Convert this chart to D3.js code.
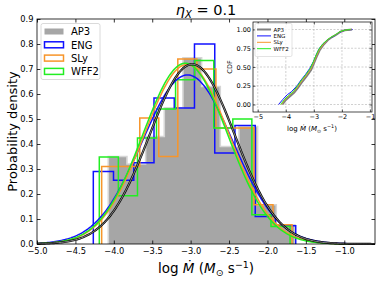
<!DOCTYPE html>
<html>
<head>
<meta charset="utf-8">
<script src="https://cdn.jsdelivr.net/npm/d3@7"></script>
<style>
  body { margin: 0; background: #fff; }
  text { font-family: "DejaVu Sans", sans-serif; }
</style>
</head>
<body>
<div id="chart"></div>
<script>
// series names and colours
const names = ["AP3", "ENG", "SLy", "WFF2"];
const colors = ["#a6a6a6", "#1010ff", "#f7952a", "#22ee22"];

// histogram bin edges (log Mdot) and densities
const edgesAP3 = [-4.072, -3.829, -3.586, -3.343, -3.100, -2.857, -2.614, -2.371, -2.128, -1.885, -1.642];
const densAP3 = [0.35, 0.32, 0.43, 0.545, 0.745, 0.63, 0.39, 0.47, 0.157, 0.077];
const edgesENG = [-4.267, -4.004, -3.740, -3.477, -3.213, -2.950, -2.686, -2.423, -2.159, -1.896, -1.632];
const densENG = [0.29, 0.255, 0.325, 0.584, 0.544, 0.80, 0.364, 0.474, 0.11, 0.073];
const edgesSLy = [-4.158, -3.910, -3.662, -3.415, -3.167, -2.919, -2.671, -2.423, -2.176, -1.928, -1.680];
const densSLy = [0.31, 0.31, 0.504, 0.35, 0.74, 0.70, 0.464, 0.464, 0.157, 0.077];
const edgesWFF2 = [-4.189, -3.941, -3.692, -3.444, -3.196, -2.948, -2.699, -2.451, -2.203, -1.954, -1.706];
const densWFF2 = [0.348, 0.193, 0.424, 0.54, 0.657, 0.734, 0.464, 0.50, 0.117, 0.07];

// gaussian fit parameters (mean, sigma)
const fitMu = [-2.98, -3.04, -3.05, -3.07];
const fitSigma = [0.555, 0.59, 0.556, 0.552];

// empirical CDF vertices for the inset
const cdfAP3 = [[-4.12,0],[-4.0,0.06],[-3.85,0.11],[-3.7,0.16],[-3.55,0.23],[-3.4,0.31],[-3.25,0.38],[-3.1,0.46],[-3.0,0.55],[-2.9,0.64],[-2.8,0.72],[-2.65,0.80],[-2.5,0.86],[-2.35,0.90],[-2.2,0.93],[-2.05,0.97],[-1.9,0.99],[-1.64,1.0]];
const cdfENG = [[-4.26,0],[-4.1,0.07],[-3.95,0.13],[-3.8,0.17],[-3.6,0.25],[-3.45,0.33],[-3.3,0.40],[-3.15,0.48],[-3.02,0.57],[-2.92,0.66],[-2.82,0.74],[-2.7,0.80],[-2.55,0.85],[-2.4,0.89],[-2.25,0.92],[-2.1,0.96],[-1.9,0.99],[-1.62,1.0]];
const cdfSLy = [[-4.16,0],[-4.02,0.07],[-3.88,0.12],[-3.72,0.17],[-3.57,0.24],[-3.42,0.32],[-3.27,0.39],[-3.12,0.47],[-3.01,0.56],[-2.91,0.65],[-2.81,0.73],[-2.67,0.80],[-2.52,0.86],[-2.37,0.90],[-2.22,0.93],[-2.07,0.97],[-1.9,0.99],[-1.66,1.0]];
const cdfWFF2 = [[-4.19,0],[-4.04,0.07],[-3.9,0.12],[-3.74,0.17],[-3.58,0.25],[-3.43,0.33],[-3.28,0.40],[-3.13,0.48],[-3.02,0.57],[-2.92,0.66],[-2.82,0.74],[-2.68,0.81],[-2.53,0.86],[-2.38,0.90],[-2.23,0.93],[-2.08,0.97],[-1.92,0.99],[-1.69,1.0]];

// tick values
const xTicks = [-5.0, -4.5, -4.0, -3.5, -3.0, -2.5, -2.0, -1.5, -1.0];
const yTicks = [0.0, 0.1, 0.2, 0.3, 0.4, 0.5, 0.6, 0.7, 0.8, 0.9];
const insetXTicks = [-5, -4, -3, -2, -1];
const insetYTicks = [0.0, 0.25, 0.5, 0.75, 1.0];

const width = 380, height = 281,
  margin = ({ top: 19, right: 5, bottom: 37, left: 37 });

const svg = d3.select("#chart")
  .append("svg")
  .attr("width", width)
  .attr("height", height);

const x = d3.scaleLinear()
  .domain([-5, -0.6])
  .range([margin.left, width - margin.right]);

const y = d3.scaleLinear()
  .domain([0, 0.9])
  .range([height - margin.bottom, margin.top]);

// turn edges + densities into step outline points
function stepPoints(edges, dens) {
  let pts = [[edges[0], 0]];
  for (let i = 0; i < dens.length; i++) {
    pts.push([edges[i], dens[i]]);
    pts.push([edges[i + 1], dens[i]]);
  }
  pts.push([edges[edges.length - 1], 0]);
  return pts;
}

const line = d3.line()
  .x(d => x(d[0]))
  .y(d => y(d[1]));

const hists = [
  stepPoints(edgesAP3, densAP3),
  stepPoints(edgesENG, densENG),
  stepPoints(edgesSLy, densSLy),
  stepPoints(edgesWFF2, densWFF2)
];

// AP3 filled first
svg.append("path")
  .datum(hists[0])
  .attr("fill", colors[0])
  .attr("stroke", "#d6d6d6")
  .attr("stroke-width", 1.6)
  .attr("d", line);

for (let i = 1; i < 4; i++) {
  svg.append("path")
    .datum(hists[i])
    .attr("fill", "none")
    .attr("stroke", colors[i])
    .attr("stroke-width", 1.5)
    .attr("d", line);
}

// fitted normal curves
function pdf(v, mu, s) {
  return Math.exp(-0.5 * ((v - mu) / s) ** 2) / (s * Math.sqrt(2 * Math.PI));
}
const xs = d3.range(-5, -0.6 + 1e-9, 0.02);
for (let i of [1, 2, 3]) {
  svg.append("path")
    .datum(xs.map(v => [v, pdf(v, fitMu[i], fitSigma[i])]))
    .attr("fill", "none")
    .attr("stroke", colors[i])
    .attr("stroke-width", 1.5)
    .attr("d", line);
}
// AP3 fit: black with a thin light core
const ap3Curve = xs.map(v => [v, pdf(v, fitMu[0], fitSigma[0])]);
svg.append("path").datum(ap3Curve)
  .attr("fill", "none").attr("stroke", "#000").attr("stroke-width", 2.2).attr("d", line);
svg.append("path").datum(ap3Curve)
  .attr("fill", "none").attr("stroke", "#e8e8e8").attr("stroke-width", 0.6).attr("d", line);

// axes (ticks pointing in on all sides)
const bottom = height - margin.bottom, right = width - margin.right;
svg.append("g")
  .attr("transform", `translate(0,${bottom})`)
  .call(d3.axisBottom(x).tickValues(xTicks).tickSize(-3.5).tickPadding(4.3).tickFormat(d3.format(".1f")))
  .call(g => g.select(".domain").remove());
svg.append("g")
  .attr("transform", `translate(0,${margin.top})`)
  .call(d3.axisTop(x).tickValues(xTicks).tickSize(-3.5).tickFormat(""))
  .call(g => g.select(".domain").remove());
svg.append("g")
  .attr("transform", `translate(${margin.left},0)`)
  .call(d3.axisLeft(y).tickValues(yTicks).tickSize(-3.5).tickPadding(3.5).tickFormat(d3.format(".1f")))
  .call(g => g.select(".domain").remove());
svg.append("g")
  .attr("transform", `translate(${right},0)`)
  .call(d3.axisRight(y).tickValues(yTicks).tickSize(-3.5).tickFormat(""))
  .call(g => g.select(".domain").remove());
svg.selectAll(".tick text")
  .attr("font-family", "DejaVu Sans")
  .attr("font-size", 8.3)
  .attr("fill", "#000");
svg.selectAll(".tick line").attr("stroke", "#000").attr("stroke-width", 0.8);

svg.append("rect")
  .attr("x", margin.left).attr("y", margin.top)
  .attr("width", right - margin.left).attr("height", bottom - margin.top)
  .attr("fill", "none").attr("stroke", "#000").attr("stroke-width", 0.8);

// title
const title = svg.append("text")
  .attr("x", 206).attr("y", 15)
  .attr("text-anchor", "middle")
  .attr("font-size", 14.5);
title.append("tspan").attr("font-style", "italic").text("η");
title.append("tspan").attr("font-style", "italic").attr("font-size", 10).attr("dy", 3).text("X");
title.append("tspan").attr("dy", -3).text(" = 0.1");

// axis labels
svg.append("text")
  .attr("transform", `translate(17,${(margin.top + bottom) / 2}) rotate(-90)`)
  .attr("text-anchor", "middle")
  .attr("font-size", 13)
  .text("Probability density");

function mdotLabel(g, size) {
  g.append("tspan").text("log ");
  g.append("tspan").attr("font-style", "italic").text("Ṁ");
  g.append("tspan").text(" (");
  g.append("tspan").attr("font-style", "italic").text("M");
  g.append("tspan").attr("font-size", size * 0.7).attr("dy", size * 0.22).text("⊙");
  g.append("tspan").attr("dy", -size * 0.22).text(" s");
  g.append("tspan").attr("font-size", size * 0.7).attr("dy", -size * 0.38).text("−1");
  g.append("tspan").attr("dy", size * 0.38).text(")");
}
const xl = svg.append("text")
  .attr("x", 206).attr("y", 273)
  .attr("text-anchor", "middle")
  .attr("font-size", 13.5);
mdotLabel(xl, 13.5);

// legend
const leg = svg.append("g");
leg.append("rect")
  .attr("x", 41).attr("y", 23.5).attr("width", 59).attr("height", 56)
  .attr("rx", 2).attr("fill", "#fff").attr("fill-opacity", 0.8)
  .attr("stroke", "#d0d0d0").attr("stroke-width", 0.8);
names.forEach((n, i) => {
  const yy = 31.5 + i * 13.3;
  leg.append("rect")
    .attr("x", 44.5).attr("y", yy - 3).attr("width", 19).attr("height", 6)
    .attr("fill", i === 0 ? colors[0] : "none")
    .attr("stroke", i === 0 ? "none" : colors[i])
    .attr("stroke-width", 1.5);
  leg.append("text")
    .attr("x", 71).attr("y", yy + 3.7)
    .attr("font-size", 10)
    .text(n);
});

// inset CDF panel
const ix = d3.scaleLinear().domain([-5.17, -0.93]).range([253, 372]);
const iy = d3.scaleLinear().domain([-0.1, 1.1]).range([112, 22]);
const inset = svg.append("g");
inset.append("rect")
  .attr("x", 253).attr("y", 22).attr("width", 119).attr("height", 90)
  .attr("fill", "#fff");
inset.selectAll(".gx").data(insetXTicks).join("line")
  .attr("x1", d => ix(d)).attr("x2", d => ix(d)).attr("y1", 22).attr("y2", 112)
  .attr("stroke", "#b0b0b0").attr("stroke-width", 0.6).attr("stroke-dasharray", "2,1.5");
inset.selectAll(".gy").data(insetYTicks).join("line")
  .attr("y1", d => iy(d)).attr("y2", d => iy(d)).attr("x1", 253).attr("x2", 372)
  .attr("stroke", "#b0b0b0").attr("stroke-width", 0.6).attr("stroke-dasharray", "2,1.5");

const iline = d3.line().x(d => ix(d[0])).y(d => iy(d[1]));
const cdfs = [cdfAP3, cdfENG, cdfSLy, cdfWFF2];
cdfs.forEach((c, i) => {
  inset.append("path").datum(c)
    .attr("fill", "none")
    .attr("stroke", i === 0 ? "#808080" : colors[i])
    .attr("stroke-width", i === 0 ? 2 : 1)
    .attr("d", iline);
});

inset.append("g").attr("transform", "translate(0,112)")
  .call(d3.axisBottom(ix).tickValues(insetXTicks).tickSize(-2.5).tickPadding(2).tickFormat(d3.format("d")))
  .call(g => g.select(".domain").remove());
inset.append("g").attr("transform", "translate(0,22)")
  .call(d3.axisTop(ix).tickValues(insetXTicks).tickSize(-2.5).tickFormat(""))
  .call(g => g.select(".domain").remove());
inset.append("g").attr("transform", "translate(253,0)")
  .call(d3.axisLeft(iy).tickValues(insetYTicks).tickSize(-2.5).tickPadding(2).tickFormat(d3.format(".2f")))
  .call(g => g.select(".domain").remove());
inset.append("g").attr("transform", "translate(372,0)")
  .call(d3.axisRight(iy).tickValues(insetYTicks).tickSize(-2.5).tickFormat(""))
  .call(g => g.select(".domain").remove());
inset.selectAll(".tick text").attr("font-size", 6.5).attr("fill", "#000");
inset.selectAll(".tick line").attr("stroke", "#000").attr("stroke-width", 0.6);
inset.append("rect")
  .attr("x", 253).attr("y", 22).attr("width", 119).attr("height", 90)
  .attr("fill", "none").attr("stroke", "#000").attr("stroke-width", 0.7);

inset.append("text")
  .attr("transform", "translate(232,67) rotate(-90)")
  .attr("text-anchor", "middle").attr("font-size", 6.5)
  .text("CDF");
const ixl = inset.append("text")
  .attr("x", 312).attr("y", 131)
  .attr("text-anchor", "middle").attr("font-size", 7);
mdotLabel(ixl, 7);

const ileg = inset.append("g");
ileg.append("rect")
  .attr("x", 255).attr("y", 23.5).attr("width", 37).attr("height", 33)
  .attr("rx", 1.5).attr("fill", "#fff").attr("fill-opacity", 0.8)
  .attr("stroke", "#d0d0d0").attr("stroke-width", 0.6);
names.forEach((n, i) => {
  const yy = 29.5 + i * 6.4;
  ileg.append("line")
    .attr("x1", 257).attr("x2", 271).attr("y1", yy).attr("y2", yy)
    .attr("stroke", i === 0 ? "#808080" : colors[i])
    .attr("stroke-width", i === 0 ? 2 : 1);
  ileg.append("text")
    .attr("x", 273.5).attr("y", yy + 2)
    .attr("font-size", 5.5)
    .text(n);
});
</script>
</body>
</html>
